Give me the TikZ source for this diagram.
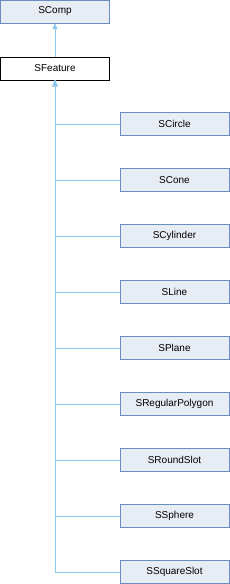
\documentclass[tikz,border=0pt]{standalone}
\usepackage{fontspec}
\setmainfont{Liberation Sans}
\usetikzlibrary{arrows.meta}
\definecolor{boxfill}{HTML}{E8ECF5}
\definecolor{boxline}{HTML}{6C8CC4}
\definecolor{edgeblue}{HTML}{8EC8EC}
\tikzset{
  cls/.style={draw=boxline,fill=boxfill,minimum width=109pt,minimum height=23pt,
    inner sep=0pt,font=\fontsize{10}{12}\selectfont},
  cur/.style={cls,draw=black,fill=white},
  inh/.style={edgeblue,line width=0.8pt,-{Triangle[length=6pt,width=5pt]}}
}
\begin{document}
\begin{tikzpicture}[x=1pt,y=-1pt]
  \useasboundingbox (0,0) rectangle (230,584);
  \node[cls] (SComp) at (55,11.5) {SComp};
  \node[cur] (SFeature) at (55,68.5) {SFeature};
  \draw[inh] (SFeature) -- (SComp);
  \foreach \name [count=\i from 0] in {SCircle,SCone,SCylinder,SLine,SPlane,SRegularPolygon,SRoundSlot,SSphere,SSquareSlot}{
    \node[cls] (\name) at (174.5,124+56*\i) {\name};
    \draw[inh] (\name.west) -| (SFeature.south);
  }
\end{tikzpicture}
\end{document}
